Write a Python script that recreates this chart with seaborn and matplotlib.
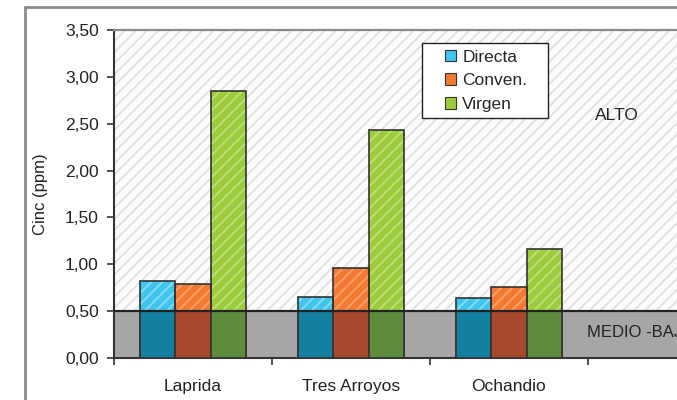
import numpy as np
import pandas as pd
import matplotlib.pyplot as plt
import seaborn as sns
from matplotlib.patches import Patch, Rectangle
from matplotlib.lines import Line2D

# datos
sites = ['Laprida', 'Tres Arroyos', 'Ochandio']
methods = ['Directa', 'Conven.', 'Virgen']
directa = [0.82, 0.65, 0.64]
conven = [0.79, 0.96, 0.76]
virgen = [2.85, 2.43, 1.16]
limite = 0.5  # umbral MEDIO-BAJO / ALTO
yticks = [0, 0.5, 1.0, 1.5, 2.0, 2.5, 3.0, 3.5]
ytick_labels = ['0,00', '0,50', '1,00', '1,50', '2,00', '2,50', '3,00', '3,50']

light = ['#3ec6f0', '#f47a32', '#9ccc3c']
hatch_tint = ['#8cdcf6', '#f8a26e', '#bfe07c']
dark = ['#14809f', '#a8482c', '#5f8c3c']

df = pd.DataFrame({'site': sites * 3,
                   'method': np.repeat(methods, len(sites)),
                   'value': directa + conven + virgen})
df['low'] = np.minimum(df['value'], limite)

sns.set_theme(style='white')
plt.rcParams['font.family'] = ['Liberation Sans', 'DejaVu Sans']
plt.rcParams['hatch.linewidth'] = 1.3

fig = plt.figure(figsize=(6.77, 4.0), dpi=100)
fig.patch.set_facecolor('white')
ax = fig.add_axes([114 / 677, 42 / 400, 563 / 677, 328 / 400])
ax.set_facecolor('#fcfcfc')

# fondo: zona ALTO rayada, zona MEDIO-BAJO gris
ax.axhspan(limite, 3.5, facecolor='#fcfcfc', edgecolor='#e0e0e0', hatch='///', lw=0, zorder=0)
ax.axhspan(0, limite, color='#a6a6a6', lw=0, zorder=1)
n0 = len(ax.patches)

# barras completas (parte clara rayada)
sns.barplot(data=df, x='site', y='value', hue='method', palette=light, width=0.67,
            gap=0, saturation=1, legend=False, zorder=2, ax=ax)
bars = list(ax.patches)[n0:]
for i, p in enumerate(bars):
    p.set_hatch('///')
    p.set_edgecolor(hatch_tint[i // len(sites)])
    p.set_linewidth(0)
    ax.add_patch(Rectangle(p.get_xy(), p.get_width(), p.get_height(), fill=False,
                           edgecolor='#333333', lw=1.2, zorder=2.5))

# parte baja de las barras (color oscuro)
sns.barplot(data=df, x='site', y='low', hue='method', palette=dark, width=0.67,
            gap=0, saturation=1, legend=False, zorder=3, ax=ax,
            edgecolor='#333333', linewidth=1.2)

ax.axhline(limite, color='#222222', lw=1.6, zorder=4)

ax.set_xlim(-0.5, -0.5 + 563 / 158)
ax.set_ylim(0, 3.5)
ax.set_yticks(yticks)
ax.set_yticklabels(ytick_labels, fontsize=12.5, color='#222222')
ax.set_xticks([-0.5, 0.5, 1.5, 2.5])
ax.set_xticklabels([])
ax.set_xticks(range(len(sites)), minor=True)
ax.set_xticklabels(sites, minor=True, fontsize=12.5, color='#222222')
ax.tick_params(axis='x', which='minor', length=0, pad=15)
ax.tick_params(axis='x', which='major', length=5, width=1.2, color='#333333', direction='out', bottom=True)
ax.tick_params(axis='y', length=5, width=1.2, color='#333333', direction='out', left=True, pad=6)
ax.set_xlabel('')
ax.set_ylabel('Cinc (ppm)', fontsize=12, color='#222222', labelpad=12)

for s in ['left', 'bottom']:
    ax.spines[s].set_color('#333333')
    ax.spines[s].set_linewidth(1.5)
ax.spines['top'].set_color('#8a8a8a')
ax.spines['top'].set_linewidth(1.6)
ax.spines['right'].set_visible(False)

ax.text(2.68, 2.59, 'ALTO', fontsize=12.5, color='#222222', ha='center', va='center', zorder=5)
ax.text(2.494, 0.277, 'MEDIO -BAJO', fontsize=12, color='#222222', ha='left', va='center',
        zorder=5, clip_on=False)

# leyenda con marco propio (mas ancho que el contenido)
ax.add_patch(Rectangle((0.547, 0.732), 0.224, 0.229, transform=ax.transAxes,
                       facecolor='white', edgecolor='#222222', lw=1.0, zorder=6))
handles = [Patch(facecolor=c, edgecolor='#333333', lw=0.8) for c in light]
leg = ax.legend(handles, methods, loc='upper left', bbox_to_anchor=(0.588, 0.94),
                fontsize=12.5, frameon=False, handlelength=0.65, handleheight=0.65,
                handletextpad=0.35, labelspacing=0.5, borderpad=0, borderaxespad=0)
leg.set_zorder(7)

# marco exterior del area del grafico
fig.add_artist(Line2D([25 / 677, 25 / 677], [0, 1 - 7 / 400], transform=fig.transFigure,
                      color='#8c8c8c', lw=2))
fig.add_artist(Line2D([25 / 677, 1], [1 - 7 / 400, 1 - 7 / 400], transform=fig.transFigure,
                      color='#8c8c8c', lw=2))

fig.savefig('out.png', dpi=100)
